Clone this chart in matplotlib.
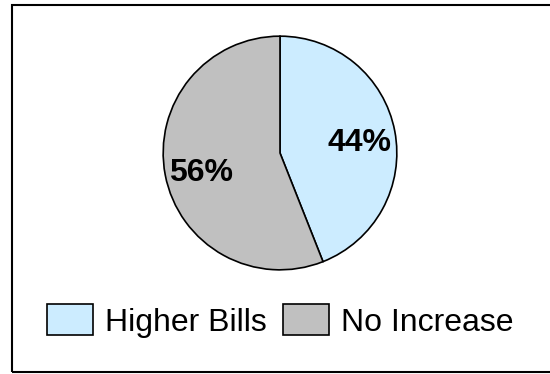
import matplotlib
matplotlib.use("Agg")
import matplotlib.pyplot as plt
from matplotlib.patches import Rectangle

labels = ["Higher Bills", "No Increase"]
values = [44, 56]
colors = ["#CCECFF", "#C0C0C0"]

plt.rcParams['font.family'] = ['Liberation Sans', 'DejaVu Sans']

W, H = 550, 374
fig = plt.figure(figsize=(5.5, 3.74), dpi=100)

cx, cy, r = 280, 153, 118
ax = fig.add_axes([(cx - r) / W, (H - cy - r) / H, 2 * r / W, 2 * r / H])
wedges, texts, autotexts = ax.pie(
    values, colors=colors, startangle=90, counterclock=False,
    autopct=lambda p: f"{p:.0f}%", pctdistance=0.69,
    wedgeprops=dict(edgecolor="black", linewidth=1.2),
    textprops=dict(fontsize=23, fontweight="bold", color="black"))
for t in autotexts:
    x, y = t.get_position()
    t.set_position((x, y - 0.045))
ax.set_xlim(-1.01, 1.01)
ax.set_ylim(-1.01, 1.01)
ax.set_aspect("equal")

fig.legend(wedges, labels, loc="center", bbox_to_anchor=(280.5 / W, 1 - 321 / H),
           ncol=2, frameon=False, fontsize=23, handlelength=1.44, handleheight=1.10,
           handletextpad=0.38, columnspacing=0.5, borderpad=0, borderaxespad=0)

fig.patches.append(Rectangle((11.5 / W, 1 - 372 / H), (560 - 11.5) / W, (372 - 5) / H,
                             transform=fig.transFigure, fill=False, edgecolor="black",
                             linewidth=1.5, figure=fig))

fig.savefig("out.png", dpi=100)
